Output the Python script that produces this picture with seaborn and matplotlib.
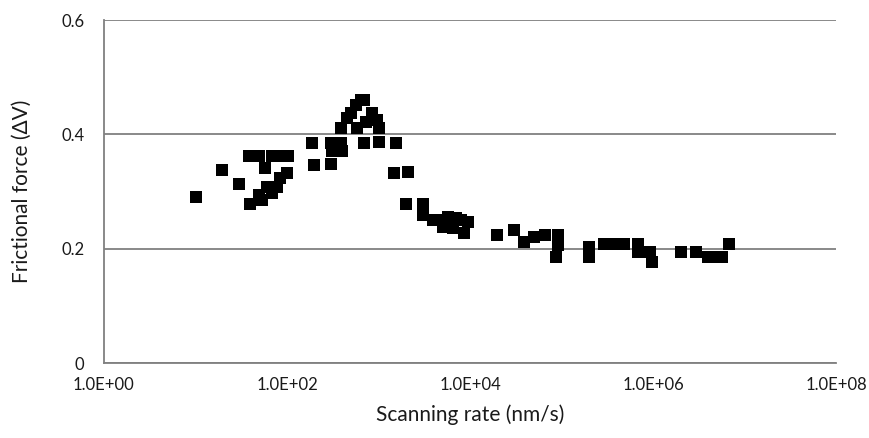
import matplotlib
matplotlib.use("Agg")
import matplotlib.pyplot as plt
import seaborn as sns
import pandas as pd
from matplotlib.ticker import FixedLocator, FixedFormatter, NullLocator

# Scanning rate (nm/s)
rate = [
    10.2, 19.5, 29.6, 39.8, 38.8, 50, 58, 60.7, 53.5, 49,
    68.8, 84.9, 103, 100.5, 84.9, 78, 68.8,
    189, 197, 300, 300, 313, 385, 403, 385, 457, 497, 564, 640, 700,
    588, 695, 725, 859, 973, 1006, 1006, 1545,
    1480, 2076, 1990, 3031, 3031, 3902, 5700, 5020, 7030, 6460, 9440, 8670,
    4500, 8000,
    19770, 30000, 39000, 50300, 66300, 92100, 87600, 92100,
    201000, 201000, 294000, 378000, 487000, 693000, 693000, 927000, 963000,
    2.0e6, 2.92e6, 4.03e6, 5.19e6, 5.63e6, 6.84e6,
]
# Frictional force (ΔV)
force = [
    0.291, 0.338, 0.314, 0.279, 0.363, 0.363, 0.341, 0.308, 0.285, 0.294,
    0.363, 0.363, 0.363, 0.332, 0.323, 0.308, 0.297,
    0.384, 0.346, 0.384, 0.349, 0.370, 0.384, 0.370, 0.411, 0.428, 0.437, 0.451, 0.460, 0.460,
    0.411, 0.384, 0.422, 0.437, 0.425, 0.411, 0.387, 0.384,
    0.333, 0.335, 0.279, 0.279, 0.259, 0.250, 0.256, 0.238, 0.253, 0.236, 0.247, 0.227,
    0.250, 0.250,
    0.224, 0.233, 0.212, 0.221, 0.224, 0.224, 0.186, 0.206,
    0.203, 0.186, 0.209, 0.209, 0.209, 0.209, 0.195, 0.195, 0.177,
    0.194, 0.194, 0.186, 0.186, 0.186, 0.209,
]

x_ticks = [1e0, 1e2, 1e4, 1e6, 1e8]
x_tick_labels = ["1.0E+00", "1.0E+02", "1.0E+04", "1.0E+06", "1.0E+08"]
y_ticks = [0, 0.2, 0.4, 0.6]
y_tick_labels = ["0", "0.2", "0.4", "0.6"]

df = pd.DataFrame({"rate": rate, "force": force})

sns.set_style("white")
plt.rcParams["font.family"] = ["Lato", "DejaVu Sans"]

fig = plt.figure(figsize=(8.7, 4.38), dpi=100)
ax = fig.add_axes([0.1195, 0.1712, 0.8415, 0.7831])

sns.scatterplot(data=df, x="rate", y="force", marker="s", color="black",
                s=68, linewidth=0, ax=ax, zorder=3)

ax.set_xscale("log")
ax.set_xlim(1e0, 1e8)
ax.set_ylim(0, 0.6)
ax.xaxis.set_major_locator(FixedLocator(x_ticks))
ax.xaxis.set_major_formatter(FixedFormatter(x_tick_labels))
ax.xaxis.set_minor_locator(NullLocator())
ax.yaxis.set_major_locator(FixedLocator(y_ticks))
ax.yaxis.set_major_formatter(FixedFormatter(y_tick_labels))

ax.yaxis.grid(True, color="#808080", linewidth=1.3)
ax.xaxis.grid(False)
ax.set_axisbelow(True)

for s in ["top", "right"]:
    ax.spines[s].set_visible(False)
for s in ["left", "bottom"]:
    ax.spines[s].set_color("#808080")
    ax.spines[s].set_linewidth(1.3)

ax.tick_params(axis="both", which="major", direction="out", length=5,
               width=1.3, color="#808080", labelsize=12, labelcolor="#1a1a1a")
ax.tick_params(axis="x", pad=5)
ax.tick_params(axis="y", pad=9)

ax.set_xlabel("Scanning rate (nm/s)", fontsize=15, color="#1a1a1a")
ax.set_ylabel("Frictional force (ΔV)", fontsize=15, color="#1a1a1a")
ax.xaxis.label.set_va("center")
ax.yaxis.label.set_va("center")
ax.xaxis.set_label_coords(0.5, -0.15)
ax.yaxis.set_label_coords(-0.112, 0.5)

fig.savefig("out.png", dpi=100)
